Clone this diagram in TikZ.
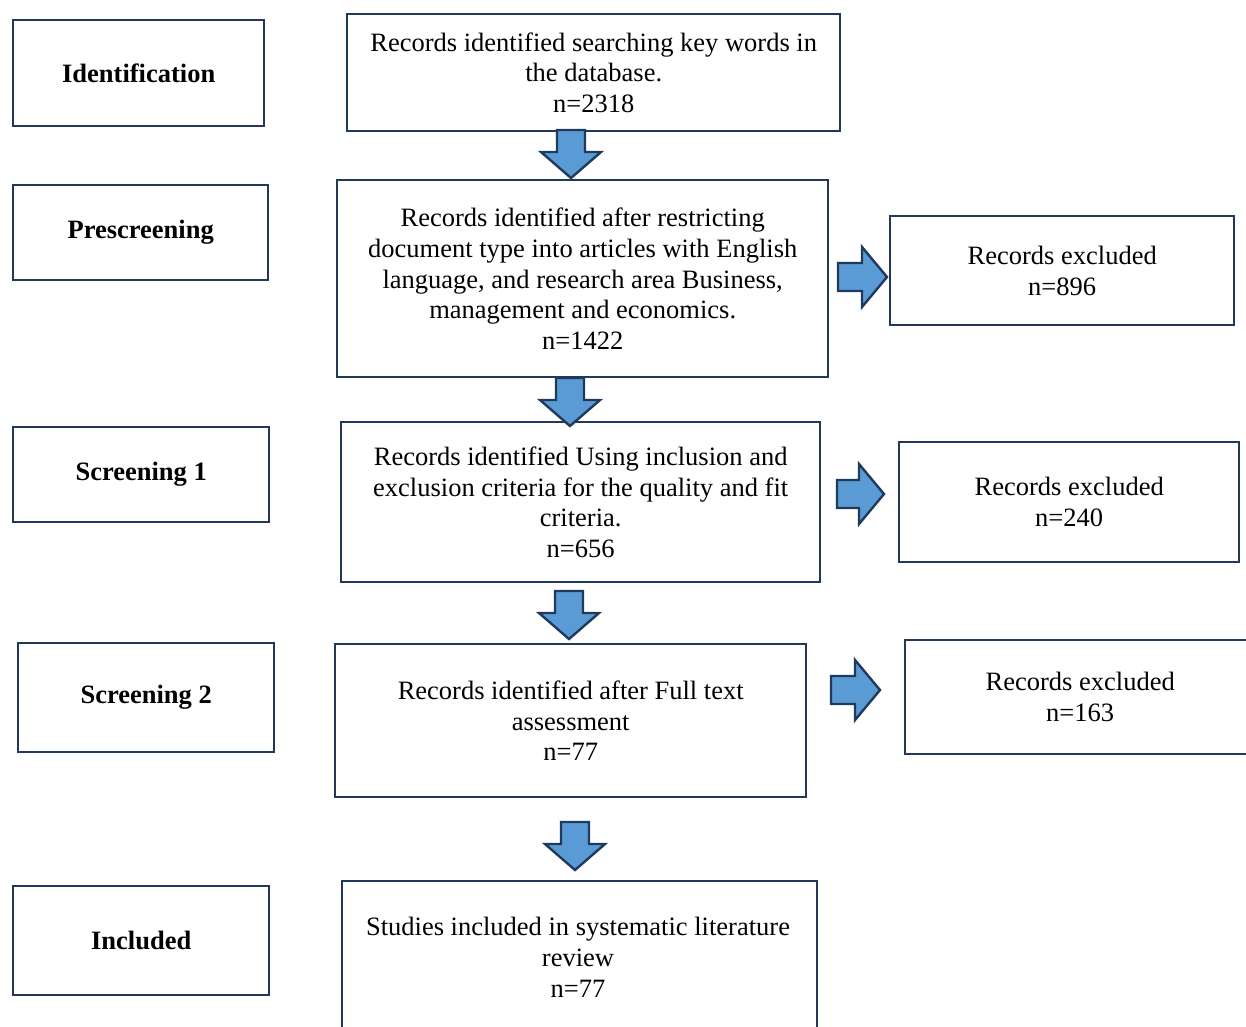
\documentclass[tikz,border=0pt]{standalone}
\usepackage{fontspec}
\setmainfont{Liberation Serif}
\begin{document}
\begin{tikzpicture}[x=1pt,y=-1pt,
  box/.style={draw=boxline,line width=2.4pt,fill=white,anchor=north west,inner sep=0pt,
    align=center,font=\fontsize{26.5}{30.8}\selectfont},
  stage/.style={box,font=\fontsize{26.5}{30.8}\selectfont\bfseries},
  blockarrow/.style={fill=arrowfill,draw=arrowline,line width=2.4pt,line join=miter}]
\definecolor{boxline}{HTML}{22395A}
\definecolor{arrowfill}{HTML}{5B9BD5}
\definecolor{arrowline}{HTML}{203A5C}
\useasboundingbox (0,0) rectangle (1246,1026);
\clip (0,0) rectangle (1246,1026);
% stage labels
\node[stage,minimum width=251pt,minimum height=106pt] (id) at (12,19) {Identification};
\node[stage,minimum width=255pt,minimum height=95pt] (pre) at (12,184) {Prescreening};
\node[stage,minimum width=256pt,minimum height=95pt] (s1) at (12,426) {Screening 1};
\node[stage,minimum width=256pt,minimum height=109pt] (s2) at (17,642) {Screening 2};
\node[stage,minimum width=256pt,minimum height=109pt] (inc) at (12,885) {Included};
% main flow
\node[box,minimum width=493pt,minimum height=117pt] (b1) at (346,13)
  {Records identified searching key words in\\the database.\\n=2318};
\node[box,minimum width=491pt,minimum height=197pt] (b2) at (336,179)
  {Records identified after restricting\\document type into articles with English\\language, and research area Business,\\management and economics.\\n=1422};
\node[box,minimum width=479pt,minimum height=160pt] (b3) at (340,421)
  {Records identified Using inclusion and\\exclusion criteria for the quality and fit\\criteria.\\n=656};
\node[box,minimum width=471pt,minimum height=153pt] (b4) at (334,643)
  {Records identified after Full text\\assessment\\n=77};
\node[box,minimum width=475pt,minimum height=216pt] (b5) at (341,880) {};
\node[font=\fontsize{26.5}{30.8}\selectfont,align=center,anchor=north] (b5text) at (578,914)
  {Studies included in systematic literature\\review\\n=77};
% exclusions
\node[box,minimum width=344pt,minimum height=109pt] (r1) at (889,215) {Records excluded\\n=896};
\node[box,minimum width=340pt,minimum height=120pt] (r2) at (898,441) {Records excluded\\n=240};
\node[box,minimum width=350pt,minimum height=114pt] (r3) at (904,639) {Records excluded\\n=163};
% downward block arrows: centre x, top y, tip y
\foreach \cx/\ty/\tip in {571/130/178, 570/378/426, 569/591/639, 575/822/870}{
  \pgfmathsetmacro{\hy}{\tip-26}
  \draw[blockarrow] (\cx-14,\ty) -- (\cx+14,\ty) -- (\cx+14,\hy) -- (\cx+30,\hy)
    -- (\cx,\tip) -- (\cx-30,\hy) -- (\cx-14,\hy) -- cycle;
}
% rightward block arrows: left x, centre y, tip x
\foreach \lx/\cy/\tip in {838/277/887, 837/494/884, 831/690/880}{
  \pgfmathsetmacro{\hx}{\tip-25}
  \draw[blockarrow] (\lx,\cy-14) -- (\hx,\cy-14) -- (\hx,\cy-30) -- (\tip,\cy)
    -- (\hx,\cy+30) -- (\hx,\cy+14) -- (\lx,\cy+14) -- cycle;
}
\end{tikzpicture}
\end{document}
